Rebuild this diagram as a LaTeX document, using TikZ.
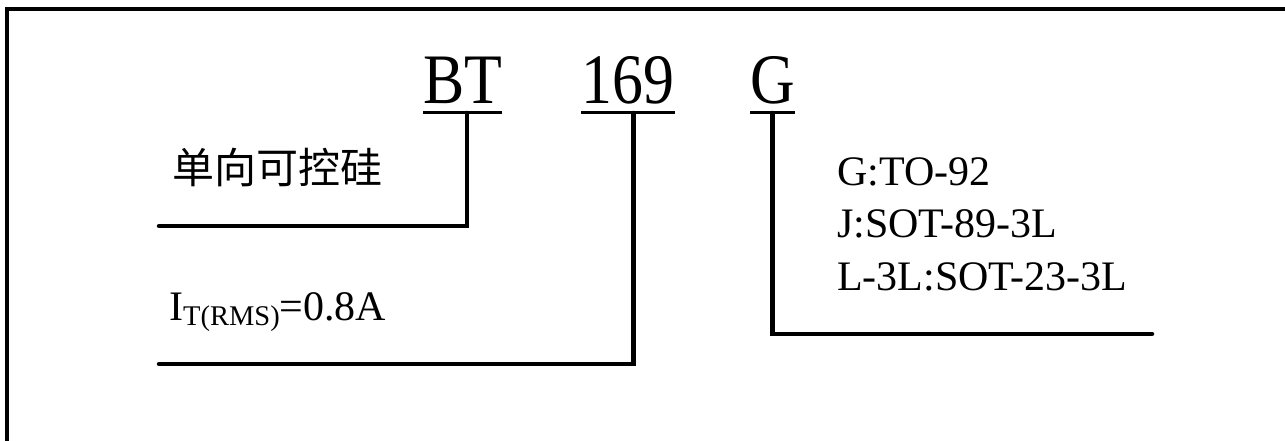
\documentclass[tikz,border=0pt]{standalone}
\usepackage{fontspec}
\setmainfont{Liberation Serif}
\newfontfamily\cjk{Noto Sans CJK SC}
\usetikzlibrary{positioning}
\newcommand*\codepart[1]{\scalebox{0.87}[1]{#1}}

\begin{document}
\begin{tikzpicture}[x=1pt,y=-1pt,inner sep=0pt,
  codetext/.style={font=\fontsize{71}{71}\selectfont,anchor=base},
  desc/.style={font=\fontsize{42}{52.5}\selectfont},
  desccjk/.style={font=\cjk\fontsize{42}{42}\selectfont},
  leader/.style={line width=4.5pt,line cap=round}]
  \useasboundingbox (0,0) rectangle (1285,441);
  \begin{scope}
    \clip (0,0) rectangle (1285,441);
    \draw[line width=4pt] (7,9) rectangle (1290,470);
  \end{scope}
  % part number
  \node (series) [codetext] at (462.5,104) {\codepart{BT}};
  \node (number) [codetext] at (628,104) {\codepart{169}};
  \node (package) [codetext] at (772.5,104) {\codepart{G}};
  \foreach \n in {series,number,package}
    \draw[line width=3pt] ([yshift=-9pt]\n.base west) -- ([yshift=-9pt]\n.base east);
  % descriptions
  \node (kind) [desccjk,anchor=west] at (172,167) {单向可控硅};
  \node (rating) [desc,anchor=base west] at (169,320) {I\raisebox{-5pt}{\fontsize{28.5}{30}\selectfont T(RMS)}=0.8A};
  \node (packages) [desc,align=left,anchor=base west] at (837,290) {G:TO-92\\J:SOT-89-3L\\L-3L:SOT-23-3L};
  \coordinate (kindend) at (159,226);
  \coordinate (ratingend) at (159,364);
  \coordinate (packageend) at (1152,334);
  \draw[leader] ([xshift=4.5pt,yshift=-9pt]series.base) |- (kindend);
  \draw[leader] ([xshift=5.5pt,yshift=-9pt]number.base) |- (ratingend);
  \draw[leader] ([yshift=-9pt]package.base) |- (packageend);
\end{tikzpicture}
\end{document}
